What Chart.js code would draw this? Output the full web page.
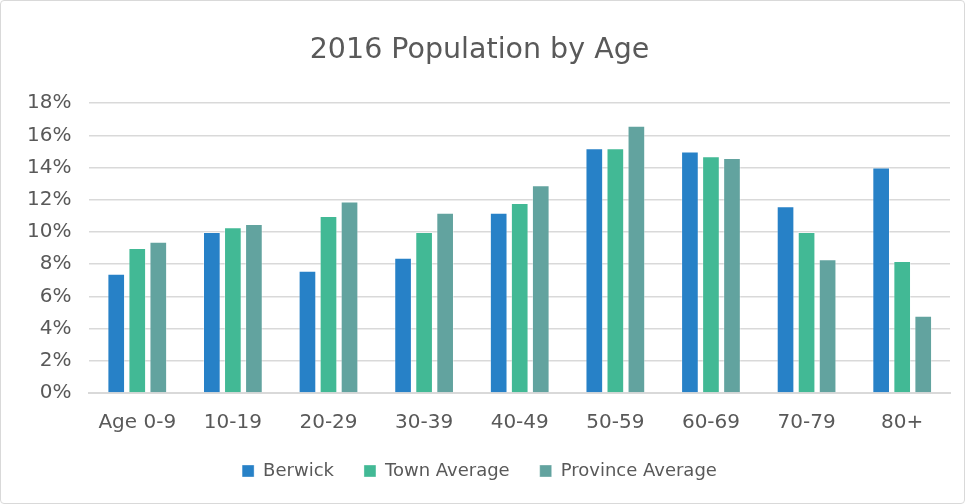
<!DOCTYPE html>
<html>
<head>
<meta charset="utf-8">
<script src="https://cdn.jsdelivr.net/npm/chart.js@4/dist/chart.umd.min.js"></script>
<style>
  html, body { margin: 0; padding: 0; background: #fff; }
  #wrap { position: relative; width: 963px; height: 502px; border: 1px solid #d9d9d9; border-radius: 4px; }
</style>
</head>
<body>
<div id="wrap"><canvas id="chart"></canvas></div>
<script>
const ageGroups = ['Age 0-9', '10-19', '20-29', '30-39', '40-49', '50-59', '60-69', '70-79', '80+'];
const berwick = [7.4, 10.0, 7.6, 8.4, 11.2, 15.2, 15.0, 11.6, 14.0];
const townAverage = [9.0, 10.3, 11.0, 10.0, 11.8, 15.2, 14.7, 10.0, 8.2];
const provinceAverage = [9.4, 10.5, 11.9, 11.2, 12.9, 16.6, 14.6, 8.3, 4.8];
const yTicks = [0, 2, 4, 6, 8, 10, 12, 14, 16, 18];

const textColor = '#595959';
const fontFamily = '"DejaVu Sans", sans-serif';

// legend takes less vertical room than Chart.js gives it with wide item spacing
const tightLegend = {
    id: 'tightLegend',
    beforeDraw(chart) {
        const legend = chart.legend;
        if (!legend || legend._tight) return;
        legend._tight = true;
        const inner = legend._draw;
        legend._draw = function () {
            const c = this.ctx;
            c.save();
            c.translate(0, -13);
            inner.call(this);
            c.restore();
        };
    },
    beforeInit(chart) {
        const legend = chart.legend;
        const fit = legend.fit;
        legend.fit = function () {
            fit.call(this);
            this.height -= 14;
        };
    }
};

const ctx = document.getElementById('chart').getContext('2d');

new Chart(ctx, {
    type: 'bar',
    data: {
        labels: ageGroups,
        datasets: [
            { label: 'Berwick', data: berwick, backgroundColor: '#2781c7' },
            { label: 'Town Average', data: townAverage, backgroundColor: '#42b995' },
            { label: 'Province Average', data: provinceAverage, backgroundColor: '#62a39f' }
        ]
    },
    options: {
        responsive: true,
        maintainAspectRatio: false,
        animation: false,
        layout: { padding: { left: 8, right: 14, top: 20, bottom: 14 } },
        datasets: {
            bar: {
                categoryPercentage: 0.66,
                barPercentage: 0.84,
                borderColor: 'rgba(255,255,255,0.35)',
                borderWidth: 1
            }
        },
        scales: {
            x: {
                grid: { display: false },
                border: { color: '#d9d9d9', width: 2 },
                ticks: { color: textColor, font: { family: fontFamily, size: 20 }, padding: 10 }
            },
            y: {
                min: 0,
                max: 18,
                afterBuildTicks: axis => { axis.ticks = yTicks.map(v => ({ value: v })); },
                grid: { color: '#d9d9d9', lineWidth: 1.5, drawTicks: false },
                border: { display: false },
                ticks: {
                    color: textColor,
                    font: { family: fontFamily, size: 20 },
                    padding: 18,
                    callback: v => v + '%'
                }
            }
        },
        plugins: {
            title: {
                display: true,
                text: '2016 Population by Age',
                color: textColor,
                font: { family: fontFamily, size: 28.5, weight: 'normal' },
                padding: { top: 12, bottom: 36 }
            },
            legend: {
                display: true,
                position: 'bottom',
                labels: {
                    color: textColor,
                    font: { family: fontFamily, size: 18 },
                    boxWidth: 12,
                    boxHeight: 12,
                    padding: 30
                }
            },
            tooltip: { enabled: false }
        }
    },
    plugins: [tightLegend]
});
</script>
</body>
</html>
